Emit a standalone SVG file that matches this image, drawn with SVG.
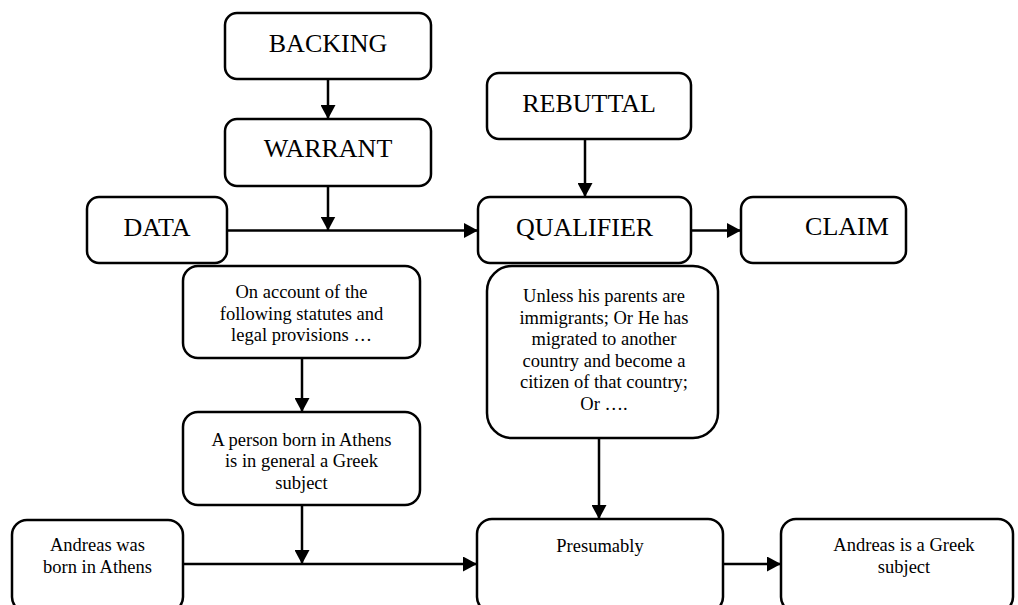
<svg xmlns="http://www.w3.org/2000/svg" width="1018" height="605" viewBox="0 0 1018 605">
<defs>
<style>
.box{fill:#fff;stroke:#000;stroke-width:2.5}
.big{font-family:"Liberation Serif","Times New Roman",serif;font-size:26px;fill:#000;text-anchor:middle}
.sm{font-family:"Liberation Serif","Times New Roman",serif;font-size:18.5px;fill:#000;text-anchor:middle}
.con{stroke:#000;stroke-width:2.5;fill:none;marker-end:url(#arr)}
</style>
<marker id="arr" markerUnits="userSpaceOnUse" markerWidth="15" markerHeight="15" refX="14" refY="7.5" orient="auto">
<path d="M0,0 L14,7.5 L0,15 z" fill="#000"/>
</marker>
</defs>
<rect width="1018" height="605" fill="#fff"/>
<g id="backing"><rect class="box" x="225" y="13" width="206" height="66" rx="12"/><text class="big" x="328" y="52">BACKING</text></g>
<g id="warrant"><rect class="box" x="225" y="119" width="206" height="67" rx="12"/><text class="big" x="328" y="157">WARRANT</text></g>
<g id="data"><rect class="box" x="87" y="197" width="140" height="66" rx="12"/><text class="big" x="157" y="236">DATA</text></g>
<g id="rebuttal"><rect class="box" x="487" y="73" width="204" height="66" rx="12"/><text class="big" x="589" y="112">REBUTTAL</text></g>
<g id="qualifier"><rect class="box" x="478" y="197" width="213" height="66" rx="12"/><text class="big" x="584.5" y="236">QUALIFIER</text></g>
<g id="claim"><rect class="box" x="741" y="197" width="165" height="66" rx="12"/><text class="big" x="847" y="235">CLAIM</text></g>
<g id="warrant-example"><rect class="box" x="183" y="266" width="237" height="92" rx="15"/>
<text class="sm" x="301.5" y="298">On account of the</text><text class="sm" x="301.5" y="319.5">following statutes and</text><text class="sm" x="301.5" y="341">legal provisions …</text></g>
<g id="rebuttal-example"><rect class="box" x="487" y="266" width="231" height="172" rx="25"/>
<text class="sm" x="604" y="302">Unless his parents are</text><text class="sm" x="604" y="323.5">immigrants; Or He has</text><text class="sm" x="604" y="345">migrated to another</text><text class="sm" x="604" y="366.5">country and become a</text><text class="sm" x="604" y="388">citizen of that country;</text><text class="sm" x="604" y="409.5">Or ….</text></g>
<g id="backing-example"><rect class="box" x="183" y="412" width="237" height="93" rx="15"/>
<text class="sm" x="301.5" y="445.5">A person born in Athens</text><text class="sm" x="301.5" y="467">is in general a Greek</text><text class="sm" x="301.5" y="488.5">subject</text></g>
<g id="data-example"><rect class="box" x="12" y="520" width="171" height="92" rx="15"/>
<text class="sm" x="97.5" y="550.5">Andreas was</text><text class="sm" x="97.5" y="572.5">born in Athens</text></g>
<g id="qualifier-example"><rect class="box" x="477" y="519" width="246" height="93" rx="15"/>
<text class="sm" x="600" y="552">Presumably</text></g>
<g id="claim-example"><rect class="box" x="781" y="519" width="232" height="93" rx="15"/>
<text class="sm" x="904" y="550.5">Andreas is a Greek</text><text class="sm" x="904" y="572.5">subject</text></g>
<g id="connectors">
<line class="con" x1="328" y1="79" x2="328" y2="119"/>
<line class="con" x1="328" y1="186" x2="328" y2="230.5"/>
<line class="con" x1="227" y1="230.5" x2="478" y2="230.5"/>
<line class="con" x1="585" y1="139" x2="585" y2="197"/>
<line class="con" x1="691" y1="230.5" x2="741" y2="230.5"/>
<line class="con" x1="302" y1="358" x2="302" y2="412"/>
<line class="con" x1="302" y1="505" x2="302" y2="564"/>
<line class="con" x1="183" y1="564" x2="477" y2="564"/>
<line class="con" x1="599" y1="438" x2="599" y2="519"/>
<line class="con" x1="723" y1="564" x2="781" y2="564"/>
</g>
</svg>
